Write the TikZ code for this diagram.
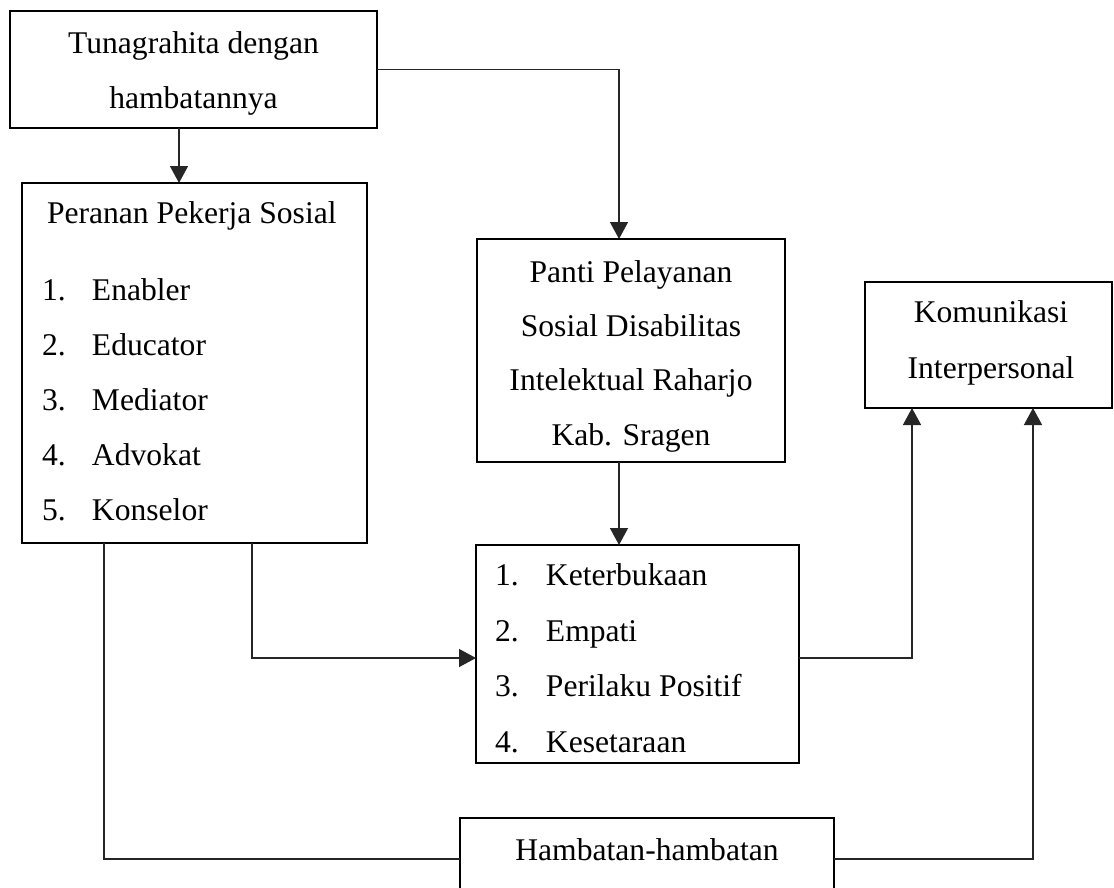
\documentclass[tikz,border=0pt]{standalone}
\usepackage{fontspec}
\setmainfont{Liberation Serif}
\usetikzlibrary{arrows.meta}
\begin{document}
\begin{tikzpicture}[x=1pt,y=-1pt,
  box/.style={draw=black, line width=2.9pt, inner sep=0pt, outer sep=0pt},
  txt/.style={inner sep=0pt, outer sep=0pt, text=black},
  conn/.style={draw=black!85, line width=1.4pt},
  arr/.style={conn, -{Triangle[width=18pt,length=17pt]}}]
\useasboundingbox (0,0) rectangle (1114,887);
\clip (0,0) rectangle (1114,887);
% boxes
\node[box, minimum width=367pt, minimum height=117pt] (A) at (193.5,69.5) {};
\node[box, minimum width=345pt, minimum height=360pt] (B) at (194.5,363) {};
\node[box, minimum width=308pt, minimum height=223pt] (C) at (631,350.5) {};
\node[box, minimum width=247pt, minimum height=126pt] (D) at (988.5,345) {};
\node[box, minimum width=323pt, minimum height=218pt] (E) at (637.5,654) {};
\node[box, minimum width=374pt, minimum height=82pt] (F) at (647,859) {};
% texts
\node[txt, align=center, anchor=north, font=\fontsize{31.6}{55}\selectfont] (tA) at (193.5,31.4)
  {Tunagrahita dengan\\hambatannya};
\node[txt, align=left, anchor=north west, font=\fontsize{31.6}{55}\selectfont] (tB) at (42,201.4)
  {\hspace*{5pt}Peranan Pekerja Sosial\\[22pt]
   \makebox[50pt][l]{1.}Enabler\\
   \makebox[50pt][l]{2.}Educator\\
   \makebox[50pt][l]{3.}Mediator\\
   \makebox[50pt][l]{4.}Advokat\\
   \makebox[50pt][l]{5.}Konselor};
\node[txt, align=center, anchor=north, font=\fontsize{31.6}{54.3}\selectfont] (tC) at (631,260.4)
  {Panti Pelayanan\\Sosial Disabilitas\\Intelektual Raharjo\\Kab. Sragen};
\node[txt, align=center, anchor=north, font=\fontsize{31.6}{56}\selectfont] (tD) at (991,300.4)
  {Komunikasi\\Interpersonal};
\node[txt, align=left, anchor=north west, font=\fontsize{31.6}{55.7}\selectfont] (tE) at (495,563.4)
  {\makebox[51pt][l]{1.}Keterbukaan\\
   \makebox[51pt][l]{2.}Empati\\
   \makebox[51pt][l]{3.}Perilaku Positif\\
   \makebox[51pt][l]{4.}Kesetaraan};
\node[txt, anchor=base, font=\fontsize{31.6}{55}\selectfont] (tF) at (647,860) {Hambatan-hambatan};
% helper coordinates
\coordinate (xa) at (179,0);
\coordinate (xc) at (619,0);
\coordinate (xb1) at (104,0);
\coordinate (xb2) at (252,0);
\coordinate (xd1) at (912,0);
\coordinate (xd2) at (1033,0);
\coordinate (yb) at (0,658);
% connectors
\draw[arr] (A.south -| xa) -- (B.north -| xa);
\draw[arr] (A.east) -| (C.north -| xc);
\draw[arr] (C.south -| xc) -- (E.north -| xc);
\draw[arr] (B.south -| xb2) |- (E.west |- yb);
\draw[arr] (E.east |- yb) -| (D.south -| xd1);
\draw[conn] (B.south -| xb1) |- (F.west);
\draw[arr] (F.east) -| (D.south -| xd2);
\end{tikzpicture}
\end{document}
